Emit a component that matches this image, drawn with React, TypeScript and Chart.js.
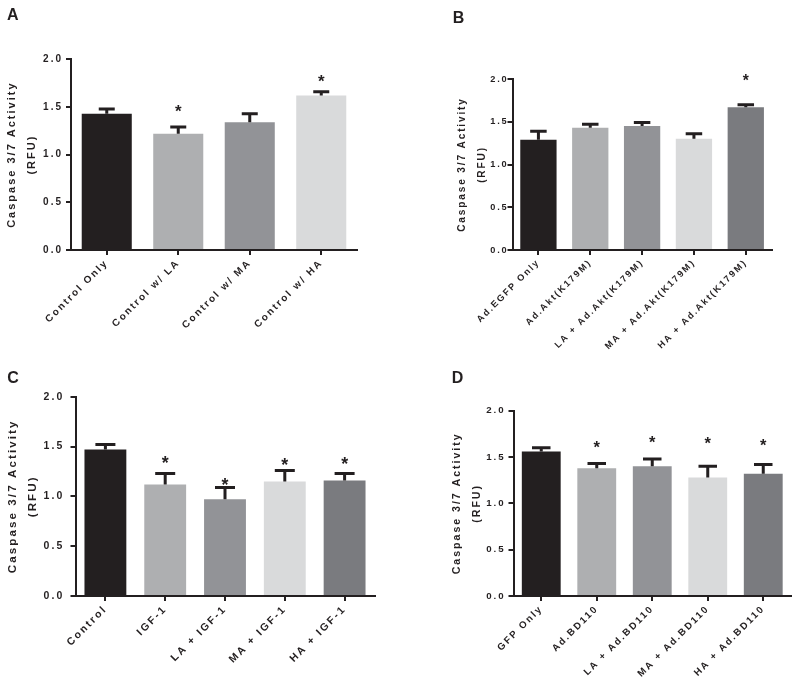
import React, { useEffect, useRef } from 'react';
import { Chart, registerables } from 'chart.js';

Chart.register(...registerables);

// ---------- Data ----------
const catsA = ['Control Only', 'Control w/ LA', 'Control w/ MA', 'Control w/ HA'];
const meanA = [1.43, 1.22, 1.34, 1.62];
const errA = [1.48, 1.29, 1.43, 1.66];
const starA: (number | null)[] = [null, 1.5, null, 1.81];

const catsB = ['Ad.EGFP Only', 'Ad.Akt(K179M)', 'LA + Ad.Akt(K179M)', 'MA + Ad.Akt(K179M)', 'HA + Ad.Akt(K179M)'];
const meanB = [1.29, 1.43, 1.45, 1.3, 1.67];
const errB = [1.39, 1.47, 1.49, 1.36, 1.7];
const starB: (number | null)[] = [null, null, null, null, 2.02];

const catsC = ['Control', 'IGF-1', 'LA + IGF-1', 'MA + IGF-1', 'HA + IGF-1'];
const meanC = [1.47, 1.12, 0.97, 1.15, 1.16];
const errC = [1.52, 1.23, 1.09, 1.26, 1.23];
const starC: (number | null)[] = [null, 1.38, 1.16, 1.36, 1.37];

const catsD = ['GFP Only', 'Ad.BD110', 'LA + Ad.BD110', 'MA + Ad.BD110', 'HA + Ad.BD110'];
const meanD = [1.56, 1.38, 1.4, 1.28, 1.32];
const errD = [1.6, 1.43, 1.48, 1.4, 1.42];
const starD: (number | null)[] = [null, 1.65, 1.7, 1.69, 1.67];

const yTitle = ['Caspase 3/7 Activity', '(RFU)'];
const yMin = 0;
const yMax = 2;
const yStep = 0.5;

const colors4 = ['#231f20', '#aeafb1', '#929397', '#d9dadb'];
const colors5 = ['#231f20', '#aeafb1', '#929397', '#d9dadb', '#7a7b7f'];

const INK = '#231f20';
const FONT = "'Liberation Sans', Arial, Helvetica, sans-serif";

const PW = 800;
const PH = 694;
const XH = 110;

type Panel = {
  letter: string;
  cats: string[];
  means: number[];
  errs: number[];
  stars: (number | null)[];
  colors: string[];
  cx: number;
  L: number; R: number; T: number; B: number;
  titleX: number;
  tickPad: number;
  k: number;
  capW: number;
  lx: number; lb: number;
};

const panels: Panel[] = [
  { letter: 'A', cats: catsA, means: meanA, errs: errA, stars: starA, colors: colors4,
    cx: 0, L: 71, R: 357, T: 59.3, B: 250, titleX: 11.7, tickPad: 3, k: 1, capW: 16, lx: 7, lb: 20 },
  { letter: 'B', cats: catsB, means: meanB, errs: errB, stars: starB, colors: colors5,
    cx: 400, L: 512.5, R: 771.7, T: 79, B: 250, titleX: 462.7, tickPad: -1, k: 0.92, capW: 16.5, lx: 452.7, lb: 22.5 },
  { letter: 'C', cats: catsC, means: meanC, errs: errC, stars: starC, colors: colors5,
    cx: 0, L: 75.5, R: 374.5, T: 396.7, B: 596, titleX: 13.3, tickPad: 6, k: 1.05, capW: 20, lx: 7.3, lb: 382.7 },
  { letter: 'D', cats: catsD, means: meanD, errs: errD, stars: starD, colors: colors5,
    cx: 400, L: 513.5, R: 791, T: 410.7, B: 596, titleX: 456.7, tickPad: 3, k: 0.97, capW: 18.5, lx: 451.7, lb: 383.3 },
];

function PanelChart({ p }: { p: Panel }) {
  const ref = useRef<HTMLCanvasElement | null>(null);
  useEffect(() => {
    if (!ref.current) return;
    const ls = `${(2 * p.k).toFixed(2)}px`;
    const decor = {
      id: 'decor',
      beforeLayout(chart: any) { chart.ctx.letterSpacing = ls; },
      beforeDraw(chart: any) { chart.ctx.letterSpacing = ls; },
      afterDatasetsDraw(chart: any) {
        const ctx = chart.ctx as CanvasRenderingContext2D;
        const meta = chart.getDatasetMeta(0);
        const ys = chart.scales.y;
        ctx.save();
        ctx.strokeStyle = INK;
        ctx.fillStyle = INK;
        ctx.lineWidth = 3;
        (ctx as any).letterSpacing = '0px';
        meta.data.forEach((bar: any, i: number) => {
          const x = bar.x;
          const yTop = ys.getPixelForValue(p.means[i]);
          const yErr = ys.getPixelForValue(p.errs[i]);
          const cw = p.capW / 2;
          ctx.beginPath();
          ctx.moveTo(x, yTop);
          ctx.lineTo(x, yErr);
          ctx.moveTo(x - cw, yErr);
          ctx.lineTo(x + cw, yErr);
          ctx.stroke();
          const s = p.stars[i];
          if (s != null) {
            const fs = 17 * p.k;
            ctx.font = `bold ${fs}px ${FONT}`;
            ctx.textAlign = 'center';
            ctx.textBaseline = 'alphabetic';
            ctx.fillText('*', x, ys.getPixelForValue(s) + 0.57 * fs);
          }
        });
        ctx.font = `bold 16px ${FONT}`;
        ctx.textAlign = 'left';
        ctx.textBaseline = 'alphabetic';
        ctx.fillText(p.letter, p.lx, p.lb);
        ctx.restore();
      },
    };
    const yW = p.L - p.cx;
    const padBottom = PH - p.B - XH;
    const chart = new Chart(ref.current, {
      type: 'bar',
      data: {
        labels: p.cats,
        datasets: [{
          data: p.means,
          backgroundColor: p.colors,
          borderWidth: 0,
          categoryPercentage: 1,
          barPercentage: 0.7,
        }],
      },
      options: {
        animation: false,
        responsive: false,
        maintainAspectRatio: false,
        devicePixelRatio: 1,
        layout: { padding: { left: p.cx, right: PW - p.R, top: p.T, bottom: padBottom } },
        plugins: { legend: { display: false }, tooltip: { enabled: false } },
        scales: {
          x: {
            type: 'category',
            offset: true,
            afterFit: (s: any) => { s.height = XH; },
            border: { display: true, color: INK, width: 2 },
            grid: { display: true, offset: false, drawOnChartArea: false, drawTicks: true, tickLength: 5, color: INK, lineWidth: 2 },
            ticks: {
              autoSkip: false,
              minRotation: 45,
              maxRotation: 45,
              padding: 2,
              color: INK,
              font: { family: FONT, size: 10 * p.k, weight: 'bold' },
            },
          },
          y: {
            min: yMin,
            max: yMax,
            afterFit: (s: any) => { s.width = yW; },
            border: { display: true, color: INK, width: 2 },
            grid: { display: true, drawOnChartArea: false, drawTicks: true, tickLength: 5, color: INK, lineWidth: 2 },
            ticks: {
              stepSize: yStep,
              padding: p.tickPad,
              color: INK,
              font: { family: FONT, size: 10 * p.k, weight: 'bold' },
              callback: (v: any) => Number(v).toFixed(1),
            },
            title: {
              display: true,
              text: yTitle,
              color: INK,
              font: { family: FONT, size: 11 * p.k, weight: 'bold', lineHeight: '20px' },
              padding: { top: p.titleX - p.cx - 10, bottom: 0 },
            },
          },
        },
      } as any,
      plugins: [decor],
    });
    return () => chart.destroy();
  }, [p]);
  return (
    <canvas
      ref={ref}
      width={PW}
      height={PH}
      style={{ position: 'absolute', left: 0, top: 0, width: PW, height: PH }}
    />
  );
}

export default function App() {
  return (
    <div style={{ position: 'absolute', left: 0, top: 0, width: PW, height: PH, background: '#fff' }}>
      {panels.map((p) => <PanelChart key={p.letter} p={p} />)}
    </div>
  );
}
